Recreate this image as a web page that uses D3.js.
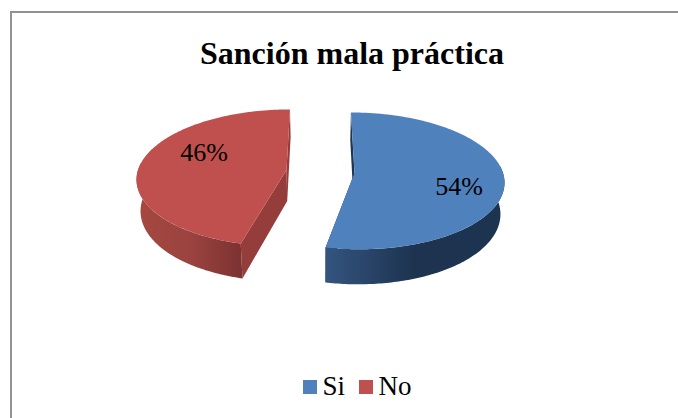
<!DOCTYPE html>
<html><head><meta charset="utf-8">
<script src="https://cdn.jsdelivr.net/npm/d3@7"></script>
<style>html,body{margin:0;padding:0;background:#fff;overflow:hidden}svg{display:block}text{font-family:"Liberation Serif",serif;fill:#000}</style>
</head><body><div id="c"></div>
<script>
const title = "Sanción mala práctica";
const categories = ["Si", "No"];
const values = [54, 46];
const labels = ["54%", "46%"];
const topColors = ["#4f81bd", "#c0504d"];
const faceColors = ["#1f3553", "#953d3b"];
const wallStops = [["#34557f", "#1d3350", "#1d3450"], ["#a5483f", "#9a4340", "#7a3130"]];

const W = 678, H = 418;
const svg = d3.select("#c").append("svg").attr("width", W).attr("height", H);
const defs = svg.append("defs");
svg.append("path").attr("d", d3.line()([[11, H], [11, 12], [W, 12]])).attr("fill", "none").attr("stroke", "#929292").attr("stroke-width", 2);

const arcs = d3.pie().sort(null).value(d => d)(values);

// 3D projection of the exploded pie
const vanishX = 320, persp = 0.115, shrink = 0.978;
const rx = 148.5, ry = 67.5, depth = 31;
const offsetX = [34.5, -33.5], cy = [173, 170], angleK = [0.985, 1];
function pt(i, a, r = 1, low = false) {
  const u = r * Math.sin(a), v = r * Math.cos(a), w = 1 + persp * v;
  const x = vanishX + (offsetX[i] + rx * u) / w * (low ? shrink : 1);
  const y = cy[i] - ry * v / w + (low ? depth / w : 0);
  return [x, y];
}
const line = d3.line();
const samples = (a0, a1, n = 120) => d3.range(n + 1).map(k => a0 + (a1 - a0) * k / n);
const wallPath = (i, a0, a1) => {
  const s = samples(a0, a1);
  return line([...s.map(a => pt(i, a)), ...s.slice().reverse().map(a => pt(i, a, 1, true))]) + "Z";
};

arcs.forEach((d, i) => {
  const a0 = d.startAngle * angleK[i], a1 = d.endAngle * angleK[i];
  const g = svg.append("g");
  const gid = "wall" + i;
  const lg = defs.append("linearGradient").attr("id", gid).attr("gradientUnits", "userSpaceOnUse")
    .attr("x1", i ? 137 : 325).attr("x2", i ? 245 : 504).attr("y1", 0).attr("y2", 0);
  wallStops[i].forEach((c, k) => lg.append("stop").attr("offset", k / 2).attr("stop-color", c));

  // cut faces: one on the back radius, one on the front radius
  [0, i ? a0 : a1].forEach(a => {
    g.append("path")
      .attr("d", line([pt(i, a), pt(i, a, 0), pt(i, a, 0, true), pt(i, a, 1, true)]) + "Z")
      .attr("fill", faceColors[i]);
  });
  // outer wall, visible front half only
  const wall = i ? [a0, Math.PI * 1.5 + 0.1] : [Math.PI / 2 - 0.1, a1];
  g.append("path").attr("d", wallPath(i, wall[0], wall[1])).attr("fill", `url(#${gid})`);
  // top face
  g.append("path").attr("d", line([pt(i, 0, 0), ...samples(a0, i ? Math.PI * 2 : a1).map(a => pt(i, a))]) + "Z").attr("fill", topColors[i]);
});

const labelPos = [[459, 195], [204, 161]];
labels.forEach((t, i) => svg.append("text").attr("x", labelPos[i][0]).attr("y", labelPos[i][1]).attr("text-anchor", "middle").attr("font-size", 26).text(t));

svg.append("text").attr("x", 352).attr("y", 64).attr("text-anchor", "middle").attr("font-size", 32).attr("font-weight", "bold").text(title);

const legendX = d3.scalePoint().domain(categories).range([303, 359]);
categories.forEach((c, i) => {
  svg.append("rect").attr("x", legendX(c)).attr("y", 380).attr("width", 14).attr("height", 14).attr("fill", topColors[i]);
  svg.append("text").attr("x", legendX(c) + 19.5).attr("y", 395).attr("font-size", 27).text(c);
});
</script></body></html>
